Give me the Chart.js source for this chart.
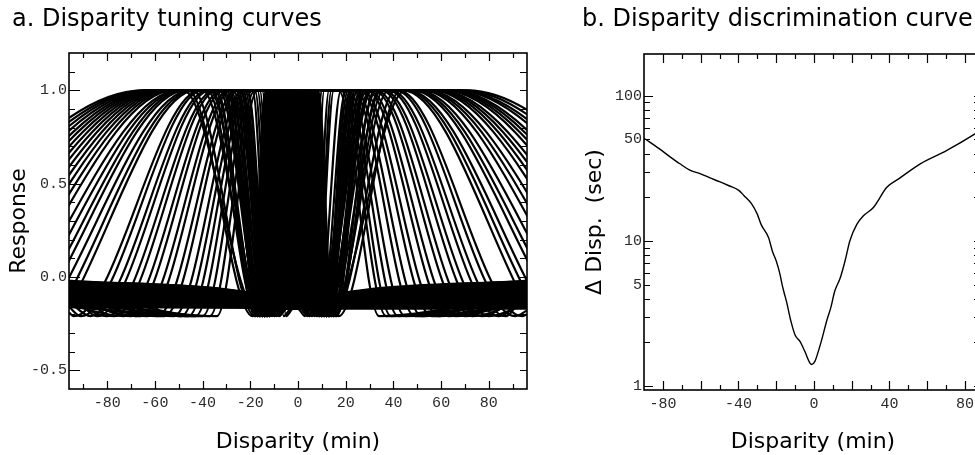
<!DOCTYPE html>
<html>
<head>
<meta charset="utf-8">
<script src="https://cdn.jsdelivr.net/npm/chart.js@4/dist/chart.umd.min.js"></script>
<style>
  html, body { margin: 0; padding: 0; background: #fff; overflow: hidden; width: 975px; height: 455px; }
  #tuning { position: absolute; left: 0; top: 0; }
  #discrim { position: absolute; left: 560px; top: 0; }
</style>
</head>
<body>
<canvas id="tuning" width="560" height="455"></canvas>
<canvas id="discrim" width="440" height="455"></canvas>
<script>
// ---------- Panel a: population of disparity tuning curves ----------
// Disparity axis limits (min of arc) and response levels of the curves.
const X_MIN = -96, X_MAX = 96;
const PEAK = 1.0, TROUGH = -0.21, BASE = -0.17;

// Near-preferring cells: slow rise from the left, plateau, fall towards zero.
const nearFoot    = [-182,-176,-171,-166,-161,-157,-153,-149,-145,-141,-137,-133,-129,-125,-120,-116,-112,-109,-105,-101,-98,-94,-91,-87,-84,-80,-77,-73,-70,-66,-63,-59,-56,-52,-49,-46,-43,-40,-37,-34];
const nearTop     = [-65,-64,-63,-62,-61,-60,-59,-58,-57,-56,-55,-54,-53,-52,-50,-49,-48,-47,-45,-44,-43,-41,-40,-38,-37,-35,-34,-32,-31,-29,-28,-26,-25,-23,-22,-21,-20,-19,-18,-17];
const nearFall    = [-48,-30,-44,-37,-40,-26,-36,-32,-33,-24,-46,-35,-30,-21,-38,-29,-27,-23,-34,-33,-25,-18,-31,-27,-28,-19,-24,-31,-29,-22,-17,-25,-23,-16,-21,-13,-15,-11,-14,-10];
const nearFloor   = [-16,-14,-18,-15,-15,-13,-17,-14,-14,-12,-19,-16,-15,-13,-17,-13,-14,-12,-18,-15,-14,-11,-16,-14,-15,-12,-13,-16,-17,-13,-10,-13,-14,-10,-12,-8,-9,-6,-8,-5];
const nearRecover = [-13,-11,-15,-12,-12,-10,-14,-11,-11,-9,-16,-13,-12,-10,-14,-10,-11,-9,-15,-12,-11,-8,-13,-11,-12,-9,-10,-13,-14,-10,-7,-10,-11,-7,-9,-5,-6,-3,-5,-2];
const nearEdge    = [null,null,null,null,null,null,null,null,null,null,null,null,null,null,null,null,null,null,null,null,null,
                     -0.19,-0.16,-0.13,-0.06,-0.11,-0.02,-0.15,-0.08,-0.12,-0.05,-0.1,-0.14,-0.07,-0.03,-0.12,-0.09,-0.16,-0.06,-0.11];
const nearTail    = [-0.05,-0.12,-0.08,-0.15,-0.03,-0.1,-0.13,-0.06,-0.17,-0.09,-0.04,-0.14,-0.11,-0.07,-0.16,-0.02,-0.12,-0.08,-0.05,-0.13,
                     -0.1,-0.15,-0.06,-0.11,-0.03,-0.14,-0.09,-0.12,-0.07,-0.16,-0.04,-0.1,-0.13,-0.08,-0.15,-0.06,-0.11,-0.02,-0.09,-0.14];

// Far-preferring cells: rise just right of zero, plateau, slow fall to the right.
const farEdge = [-0.06,-0.11,-0.03,-0.14,-0.08,-0.12,-0.05,-0.16,-0.09,-0.02,-0.13,-0.07,-0.1,-0.15,-0.04,-0.12,-0.08,-0.06,-0.14,-0.1,
                 -0.03,-0.11,-0.13,-0.07,-0.16,-0.05,-0.09,-0.12,-0.04,-0.15,-0.08,-0.1,-0.06,-0.13,-0.02,-0.11,-0.07,-0.14,-0.09,-0.05];
const farDip  = [10,7,12,9,11,8,13,7,9,7,14,10,10,7,12,6,9,8,13,8,10,5,11,7,12,6,9,9,13,8,5,6,10,4,9,2,3,1,2,0];
const farRise = [13,10,15,12,14,11,16,10,12,10,17,13,13,10,15,9,12,11,16,11,13,8,14,10,15,9,12,12,16,11,8,9,13,7,12,5,6,4,5,3];
const farTop  = [45,28,41,33,38,25,34,29,31,23,43,35,28,20,36,27,26,22,32,31,24,15,30,25,27,18,23,30,28,21,14,24,22,13,20,10,11,8,10,7];
const farFall = [71,69,67,66,64,63,62,61,59,58,57,56,54,53,52,50,49,48,46,45,44,42,41,39,38,36,35,33,32,30,29,27,26,24,23,21,20,19,18,17];
const farFoot = [185,179,174,169,163,159,155,151,146,142,138,134,129,125,121,116,112,109,104,101,98,94,91,87,84,80,77,73,70,66,63,59,56,52,49,45,42,39,37,34];
const farTail = [null,null,null,null,null,null,null,null,null,null,null,null,null,null,null,null,null,null,null,null,null,
                 -0.2,-0.18,-0.04,-0.1,-0.14,-0.06,-0.11,-0.03,-0.09,-0.13,-0.05,-0.12,-0.07,-0.15,-0.02,-0.1,-0.06,-0.13,-0.08];

// Narrowly tuned cells around zero disparity (dense enough to read as a solid block).
const tunedFootL = [-18.5,-17.4,-17.8,-16.7,-15.6,-16.0,-14.9,-13.8,-14.2,-13.1,-12.0,-12.4,-11.3,-10.2,-10.6,-9.5,-8.4,-8.8,
                    -7.7,-6.6,-7.0,-5.9,-4.8,-5.2,-4.1,-3.0,-3.4,-2.3,-1.2,-1.6,-0.5,0.6,0.2,1.3,2.4,2.0];
const tunedTopL  = [-13.5,-13.4,-11.8,-11.7,-11.6,-10.0,-9.9,-9.8,-8.2,-8.1,-8.0,-6.4,-6.3,-6.2,-4.6,-4.5,-4.4,-2.8,
                    -2.7,-2.6,-1.0,-0.9,-0.8,0.8,0.9,1.0,2.6,2.7,2.8,4.4,4.5,4.6,6.2,6.3,6.4,8.0];
const tunedTopR  = [-8.5,-9.0,-8.0,-7.0,-7.5,-6.5,-5.5,-6.0,-5.0,-4.0,-4.5,-3.5,-2.5,-3.0,-2.0,-1.0,-1.5,-0.5,
                    0.5,0.0,1.0,2.0,1.5,2.5,3.5,3.0,4.0,5.0,4.5,5.5,6.5,6.0,7.0,8.0,7.5,8.5];
const tunedFootR = [-4.5,-3.0,-3.0,-3.0,-1.5,-1.5,-1.5,0.0,0.0,0.0,1.5,1.5,1.5,3.0,3.0,3.0,4.5,4.5,
                    4.5,6.0,6.0,6.0,7.5,7.5,7.5,9.0,9.0,9.0,10.5,10.5,10.5,12.0,12.0,12.0,13.5,13.5];

// Axis ticks of panel a
const aTickX = [-80,-60,-40,-20,0,20,40,60,80];
const aMarkX = [-90,-80,-70,-60,-50,-40,-30,-20,-10,0,10,20,30,40,50,60,70,80,90];
const aTickY = [-0.5,0,0.5,1];
const aMarkY = [-0.5,-0.4,-0.3,-0.2,-0.1,0,0.1,0.2,0.3,0.4,0.5,0.6,0.7,0.8,0.9,1,1.1];

// ---------- Panel b: disparity discrimination threshold ----------
const discDisp = [-90,-82,-76,-71,-66,-60,-55,-50,-45,-40,-37,-33,-30,-28,-24,-22,-20,-18,-17,-16,-14.5,-12.2,-10,-7.4,-4.8,-2.1,-1.2,0.5,2.8,4.1,6.7,9,11,14,16.5,19,22.7,26.2,31.5,38.6,45.6,56.3,70.4,85.5,89];
const discSec  = [51,43.2,37.8,34.0,30.9,29.0,27.2,25.6,24.0,22.4,20.5,18.0,15.3,13.0,10.5,8.5,7.3,5.9,5.1,4.5,3.8,2.8,2.25,2.03,1.73,1.44,1.41,1.48,1.82,2.08,2.8,3.5,4.5,5.6,7.3,10.0,13.0,14.9,17.0,23.4,27.2,34.0,42.1,54.9,59];

const bTickX = [-80,-40,0,40,80];
const bMarkX = [-80,-70,-60,-50,-40,-30,-20,-10,0,10,20,30,40,50,60,70,80];
const bMajorX = [-80,-60,-40,-20,0,20,40,60,80];
const bTickY = [1,5,10,50,100];
const bMarkY = [1,2,3,4,5,6,7,8,9,10,20,30,40,50,60,70,80,90,100];
const bMajorY = [1,10,100];

// ---------- drawing ----------
Chart.defaults.font.family = 'DejaVu Sans';
Chart.defaults.color = '#000';

// Inward tick marks on all four sides plus the closed frame.
const frameTicks = {
  id: 'frameTicks',
  afterDatasetsDraw(chart, args, o) {
    const {ctx, chartArea: a} = chart;
    const xs = chart.scales.x, ys = chart.scales.y;
    ctx.save();
    ctx.strokeStyle = '#000';
    ctx.lineWidth = 1.2;
    ctx.beginPath();
    o.xMarks.forEach(v => {
      const px = Math.round(xs.getPixelForValue(v)) + 0.5;
      const len = o.xMajor.includes(v) ? o.xLong : o.xShort;
      ctx.moveTo(px, a.bottom); ctx.lineTo(px, a.bottom - len);
      ctx.moveTo(px, a.top); ctx.lineTo(px, a.top + len);
    });
    o.yMarks.forEach(v => {
      const py = Math.round(ys.getPixelForValue(v)) + 0.5;
      const len = o.yMajor.includes(v) ? o.yLong : o.yShort;
      ctx.moveTo(a.left, py); ctx.lineTo(a.left + len, py);
      ctx.moveTo(a.right, py); ctx.lineTo(a.right - o.yRight, py);
    });
    ctx.stroke();
    ctx.lineWidth = 1.6;
    ctx.strokeRect(a.left, a.top, a.right - a.left, a.bottom - a.top);
    ctx.restore();
  }
};

const tickFont = {family: 'Liberation Mono', size: 15};
const tickColor = '#2a2a2a';

const curve = (pts, filled) => ({
  data: pts, borderColor: '#000', borderWidth: 2.2, pointRadius: 0,
  backgroundColor: '#000', fill: filled ? {value: BASE} : false,
  cubicInterpolationMode: 'monotone'
});

const tuningSets = [];
nearTop.forEach((top, i) => {
  const pts = [];
  if (nearEdge[i] !== null) pts.push({x: X_MIN, y: nearEdge[i]});
  pts.push({x: nearFoot[i], y: TROUGH}, {x: top, y: PEAK}, {x: nearFall[i], y: PEAK},
           {x: nearFloor[i], y: TROUGH}, {x: nearRecover[i], y: BASE}, {x: X_MAX, y: nearTail[i]});
  tuningSets.push(curve(pts, false));
});
farTop.forEach((top, i) => {
  const pts = [{x: X_MIN, y: farEdge[i]}, {x: farDip[i], y: BASE}, {x: farRise[i], y: TROUGH},
               {x: top, y: PEAK}, {x: farFall[i], y: PEAK}, {x: farFoot[i], y: TROUGH}];
  if (farTail[i] !== null) pts.push({x: X_MAX, y: farTail[i]});
  tuningSets.push(curve(pts, false));
});
tunedTopL.forEach((top, i) => {
  tuningSets.push(curve([{x: tunedFootL[i], y: BASE}, {x: top, y: PEAK},
                         {x: tunedTopR[i], y: PEAK}, {x: tunedFootR[i], y: BASE}], true));
});

new Chart(document.getElementById('tuning'), {
  type: 'line',
  data: {datasets: tuningSets},
  plugins: [frameTicks],
  options: {
    responsive: false, animation: false, events: [],
    layout: {padding: {left: 12, right: 33, top: 0, bottom: 0}},
    elements: {line: {capBezierPoints: false}},
    scales: {
      x: {
        type: 'linear', min: X_MIN, max: X_MAX,
        grid: {display: false, drawTicks: false}, border: {display: false},
        ticks: {font: tickFont, color: tickColor, padding: 5, autoSkip: false, maxRotation: 0, callback: v => String(v)},
        afterBuildTicks: s => { s.ticks = aTickX.map(v => ({value: v})); },
        afterFit: s => { s.height = 66; },
        title: {display: true, text: 'Disparity (min)', font: {size: 22}, color: '#000', padding: {top: 0, bottom: 0}}
      },
      y: {
        type: 'linear', min: -0.6, max: 1.2,
        grid: {display: false, drawTicks: false}, border: {display: false},
        ticks: {font: tickFont, color: tickColor, padding: 2, autoSkip: false, callback: v => Number(v).toFixed(1)},
        afterBuildTicks: s => { s.ticks = aTickY.map(v => ({value: v})); },
        afterFit: s => { s.width = 57; },
        title: {display: true, text: 'Response', font: {size: 22, lineHeight: 1}, color: '#000', padding: {top: -4, bottom: 0}}
      }
    },
    plugins: {
      legend: {display: false}, tooltip: {enabled: false},
      title: {display: true, text: 'a. Disparity tuning curves', align: 'start', color: '#000',
              font: {size: 24, weight: 'normal'}, padding: {top: 5, bottom: 19.2}},
      frameTicks: {xMarks: aMarkX, xMajor: aTickX, xLong: 8, xShort: 5,
                   yMarks: aMarkY, yMajor: aTickY, yLong: 11, yShort: 6, yRight: 7}
    }
  }
});

new Chart(document.getElementById('discrim'), {
  type: 'line',
  data: {datasets: [{
    data: discDisp.map((d, i) => ({x: d, y: discSec[i]})),
    borderColor: '#000', borderWidth: 1.4, pointRadius: 0, fill: false, cubicInterpolationMode: 'monotone'
  }]},
  plugins: [frameTicks],
  options: {
    responsive: false, animation: false, events: [],
    layout: {padding: {left: 22, right: 18, top: 0, bottom: 0}},
    elements: {line: {capBezierPoints: false}},
    scales: {
      x: {
        type: 'linear', min: -90, max: 89,
        grid: {display: false, drawTicks: false}, border: {display: false},
        ticks: {font: tickFont, color: tickColor, padding: 5, autoSkip: false, maxRotation: 0, callback: v => String(v)},
        afterBuildTicks: s => { s.ticks = bTickX.map(v => ({value: v})); },
        afterFit: s => { s.height = 65; },
        title: {display: true, text: 'Disparity (min)', font: {size: 22}, color: '#000', padding: {top: 0, bottom: 0}}
      },
      y: {
        type: 'logarithmic', min: 0.94, max: 194,
        grid: {display: false, drawTicks: false}, border: {display: false},
        ticks: {font: tickFont, color: tickColor, padding: 2, autoSkip: false, callback: v => String(v)},
        afterBuildTicks: s => { s.ticks = bTickY.map(v => ({value: v})); },
        afterFit: s => { s.width = 62; },
        title: {display: true, text: 'Δ Disp.  (sec)', font: {size: 22, lineHeight: 1}, color: '#000', padding: {top: 2, bottom: 0}}
      }
    },
    plugins: {
      legend: {display: false}, tooltip: {enabled: false},
      title: {display: true, text: 'b. Disparity discrimination curve', align: 'start', color: '#000',
              font: {size: 24, weight: 'normal'}, padding: {top: 5, bottom: 20.2}},
      frameTicks: {xMarks: bMarkX, xMajor: bMajorX, xLong: 9, xShort: 5,
                   yMarks: bMarkY, yMajor: bMajorY, yLong: 9, yShort: 6, yRight: 8}
    }
  }
});
</script>
</body>
</html>
